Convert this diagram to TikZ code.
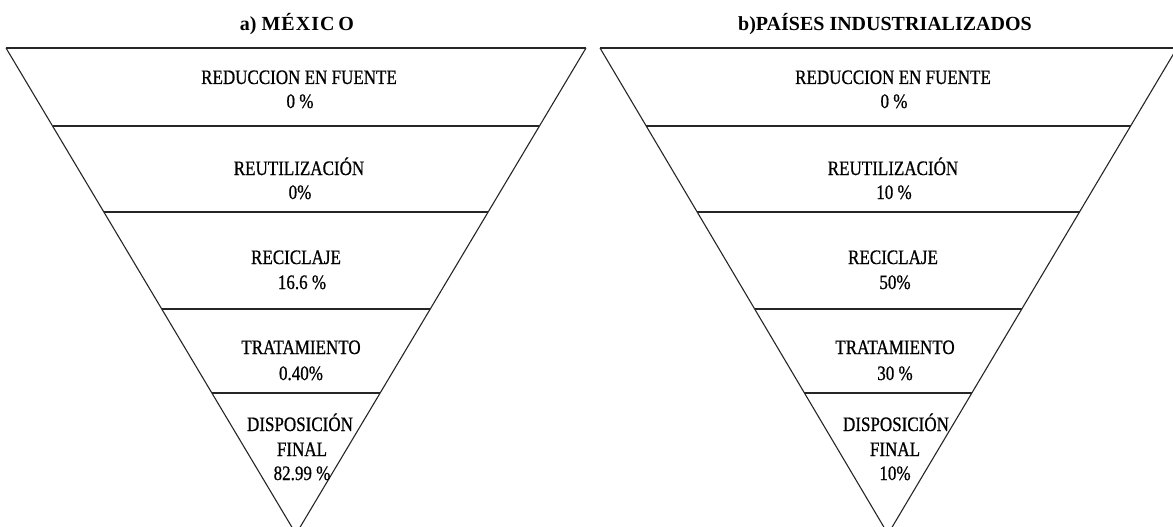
\documentclass[tikz,border=0pt]{standalone}
\usepackage{fontspec}
\setmainfont{Liberation Serif}
\newfontfamily\condserif[FakeStretch=0.83,FakeBold=0.7]{Liberation Serif}
\usetikzlibrary{calc}
\begin{document}
\begin{tikzpicture}[x=1pt,y=-1pt,
  edge/.style={line width=1.1pt, black!85},
  bar/.style={line width=1.9pt, black!85},
  lbl/.style={font=\condserif\fontsize{20.5}{24}\selectfont, anchor=base, inner sep=0pt},
  ttl/.style={font=\bfseries\fontsize{20}{22}\selectfont, anchor=base, inner sep=0pt}]
\useasboundingbox (0,0) rectangle (1173,527);
\clip (0,0) rectangle (1173,527);
% a) Mexico
\coordinate (aTL) at (6,48);
\coordinate (aTR) at (586,48);
\coordinate (aV) at (296,534);
\draw[edge] (aTL) -- (aV) -- (aTR);
\draw[bar] (aTL) -- (aTR);
\foreach \t in {0.1605,0.3374,0.537,0.7099}
  \draw[bar] ($(aTL)!\t!(aV)$) -- ($(aTR)!\t!(aV)$);
% b) paises
\coordinate (bTL) at (600,48);
\coordinate (bTR) at (1177,48);
\coordinate (bV) at (888,534);
\draw[edge] (bTL) -- (bV) -- (bTR);
\draw[bar] (bTL) -- (bTR);
\foreach \t in {0.1605,0.3374,0.537,0.7099}
  \draw[bar] ($(bTL)!\t!(bV)$) -- ($(bTR)!\t!(bV)$);
% titles
\node[ttl] (ta) at (297,31) {a) M\hspace{1pt}É\hspace{1pt}X\hspace{1pt}I\hspace{1pt}C\hspace{4pt}O};
\node[ttl] (tb) at (885,31) {b)PAÍSES INDUSTRIALIZADOS};
% labels a
\node[lbl] (a1t) at (299,84)  {REDUCCION EN FUENTE};
\node[lbl] (a1p) at (300,108) {0 \%};
\node[lbl] (a2t) at (299,175) {REUTILIZACIÓN};
\node[lbl] (a2p) at (300,199) {0\%};
\node[lbl] (a3t) at (296,264) {RECICLAJE};
\node[lbl] (a3p) at (302,289) {16.6 \%};
\node[lbl] (a4t) at (301,354) {TRATAMIENTO};
\node[lbl] (a4p) at (301,380) {0.40\%};
\node[lbl] (a5t) at (300,431) {DISPOSICIÓN};
\node[lbl] (a5f) at (302,456) {FINAL};
\node[lbl] (a5p) at (302,480) {82.99 \%};
% labels b
\node[lbl] (b1t) at (893,84)  {REDUCCION EN FUENTE};
\node[lbl] (b1p) at (894,108) {0 \%};
\node[lbl] (b2t) at (893,175) {REUTILIZACIÓN};
\node[lbl] (b2p) at (894,199) {10 \%};
\node[lbl] (b3t) at (893,264) {RECICLAJE};
\node[lbl] (b3p) at (895,289) {50\%};
\node[lbl] (b4t) at (895,354) {TRATAMIENTO};
\node[lbl] (b4p) at (895,380) {30 \%};
\node[lbl] (b5t) at (896,431) {DISPOSICIÓN};
\node[lbl] (b5f) at (895,456) {FINAL};
\node[lbl] (b5p) at (895,480) {10\%};
\end{tikzpicture}
\end{document}
